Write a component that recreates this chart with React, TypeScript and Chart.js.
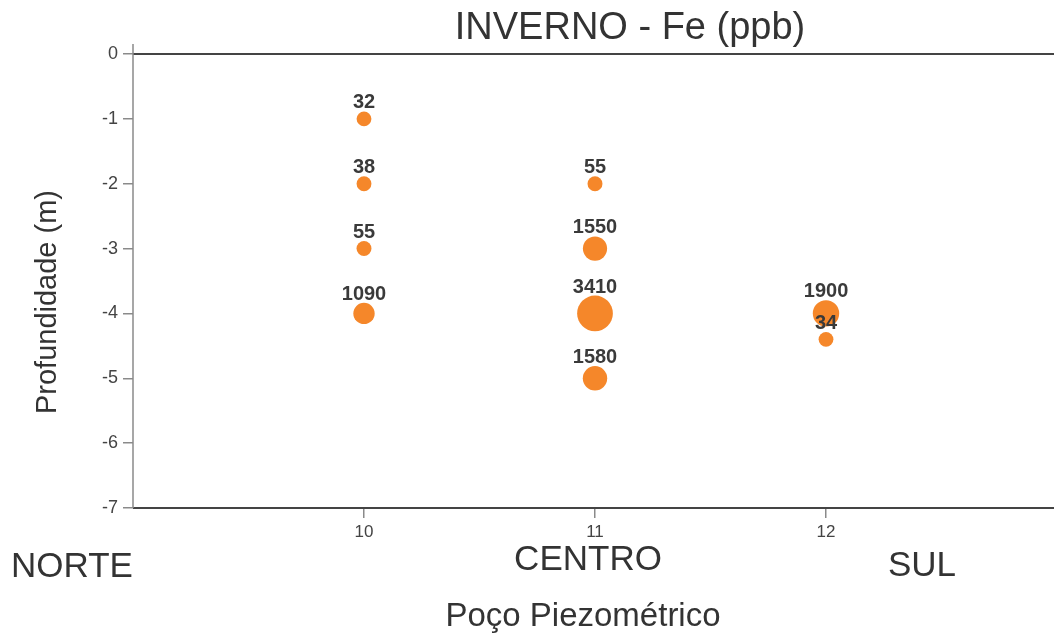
import React, { useEffect, useRef } from "react";
import { Chart, registerables } from "chart.js";

Chart.register(...registerables);

const wells = [10, 10, 10, 10, 11, 11, 11, 11, 12, 12];
const depths = [-1, -2, -3, -4, -2, -3, -4, -5, -4, -4.4];
const feValues = [32, 38, 55, 1090, 55, 1550, 3410, 1580, 1900, 34];
const xTickValues = [10, 11, 12];
const regionLabels = ["NORTE", "CENTRO", "SUL"];
const chartTitle = "INVERNO - Fe (ppb)";
const yTitle = "Profundidade (m)";
const xTitle = "Poço Piezométrico";

const FONT = '"Liberation Sans", Arial, Helvetica, sans-serif';

const radiusFor = (v: number) => 7.3 + 0.0031 * v;

const decorPlugin = {
  id: "decor",
  afterDatasetsDraw(chart: any) {
    const { ctx, chartArea } = chart;
    const { left, right, top, bottom } = chartArea;
    ctx.save();
    // axis lines
    ctx.strokeStyle = "#444";
    ctx.lineWidth = 2;
    ctx.beginPath();
    ctx.moveTo(left, top);
    ctx.lineTo(right, top);
    ctx.moveTo(left, bottom);
    ctx.lineTo(right, bottom);
    ctx.stroke();
    ctx.strokeStyle = "#8a8a8a";
    ctx.lineWidth = 1.5;
    ctx.beginPath();
    ctx.moveTo(left, top - 10);
    ctx.lineTo(left, bottom);
    ctx.stroke();

    // bubble labels
    const meta = chart.getDatasetMeta(0);
    ctx.fillStyle = "#3a3a3a";
    ctx.font = `bold 20px ${FONT}`;
    ctx.textAlign = "center";
    ctx.textBaseline = "alphabetic";
    meta.data.forEach((el: any, i: number) => {
      const r = radiusFor(feValues[i]);
      ctx.fillText(String(feValues[i]), el.x, el.y - r - 3);
    });

    // title
    ctx.fillStyle = "#333";
    ctx.font = `38px ${FONT}`;
    ctx.textBaseline = "middle";
    ctx.fillText(chartTitle, 630, 29);

    // y title
    ctx.save();
    ctx.translate(48, 302);
    ctx.rotate(-Math.PI / 2);
    ctx.font = `29px ${FONT}`;
    ctx.fillText(yTitle, 0, 0);
    ctx.restore();

    // region labels
    ctx.font = `35px ${FONT}`;
    ctx.fillText(regionLabels[0], 72, 567);
    ctx.fillText(regionLabels[1], 588, 560);
    ctx.fillText(regionLabels[2], 922, 566);

    // x title
    ctx.font = `33px ${FONT}`;
    ctx.fillText(xTitle, 583, 617);
    ctx.restore();
  },
};

export default function App() {
  const ref = useRef<HTMLCanvasElement | null>(null);
  useEffect(() => {
    if (!ref.current) return;
    const chart = new Chart(ref.current, {
      type: "bubble",
      data: {
        datasets: [
          {
            data: wells.map((w, i) => ({ x: w, y: depths[i], r: radiusFor(feValues[i]) })),
            backgroundColor: "#F5872A",
            borderColor: "#F5872A",
            borderWidth: 0,
          },
        ],
      },
      options: {
        animation: false,
        responsive: true,
        maintainAspectRatio: false,
        layout: { autoPadding: false, padding: { top: 54, right: 0, left: 0, bottom: 0 } },
        plugins: {
          legend: { display: false },
          tooltip: { enabled: false },
          title: { display: false },
        },
        scales: {
          x: {
            type: "linear",
            min: 9,
            max: 12.987,
            afterBuildTicks: (scale: any) => {
              scale.ticks = xTickValues.map((v) => ({ value: v }));
            },
            afterFit: (scale: any) => {
              scale.height = 127;
              scale.paddingLeft = 0;
              scale.paddingRight = 0;
            },
            ticks: {
              color: "#444",
              font: { size: 17, family: FONT },
              padding: 4,
              maxRotation: 0,
            },
            grid: {
              display: true,
              drawOnChartArea: false,
              drawTicks: true,
              tickLength: 10,
              color: "#8a8a8a",
              lineWidth: 1.5,
            },
            border: { display: false },
          },
          y: {
            type: "linear",
            min: -7,
            max: 0,
            afterFit: (scale: any) => {
              scale.width = 133;
              scale.paddingTop = 0;
              scale.paddingBottom = 0;
            },
            ticks: {
              stepSize: 1,
              color: "#444",
              font: { size: 18, family: FONT },
              padding: 5,
            },
            grid: {
              display: true,
              drawOnChartArea: false,
              drawTicks: true,
              tickLength: 10,
              color: "#8a8a8a",
              lineWidth: 1.5,
            },
            border: { display: false },
          },
        },
      },
      plugins: [decorPlugin],
    } as any);
    return () => chart.destroy();
  }, []);
  return (
    <div style={{ position: "absolute", left: 0, top: 0, width: 1054, height: 635, background: "#fff" }}>
      <canvas ref={ref} />
    </div>
  );
}
